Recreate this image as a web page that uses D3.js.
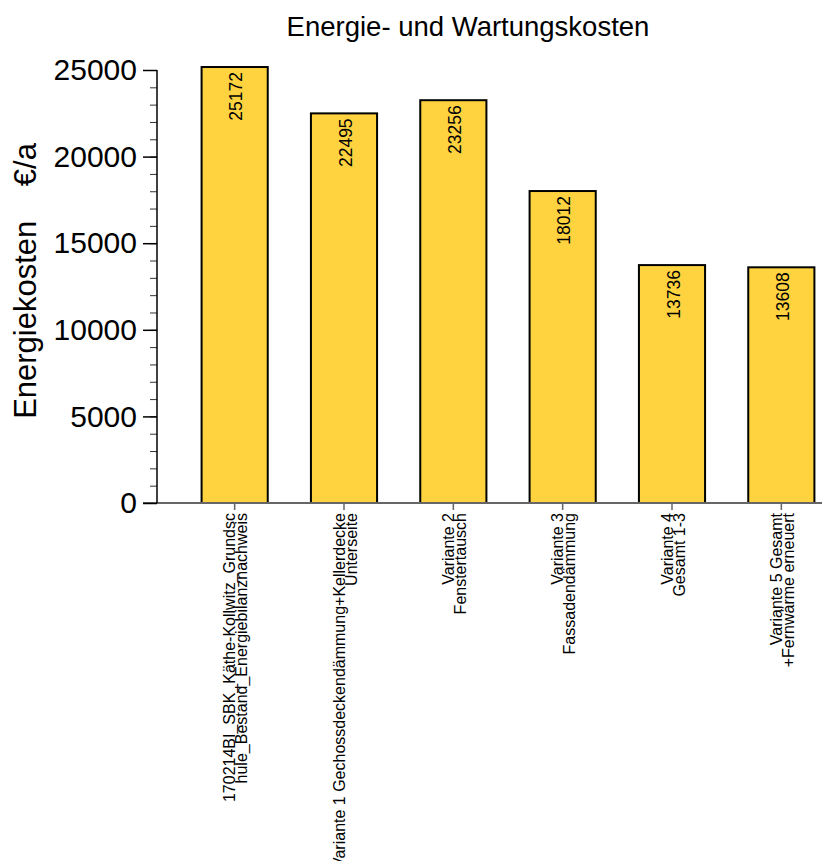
<!DOCTYPE html>
<html>
<head>
<meta charset="utf-8">
<script src="https://cdn.jsdelivr.net/npm/d3@7"></script>
<style>
  html, body { margin: 0; padding: 0; background: #fff; }
  svg { display: block; font-family: "Liberation Sans", Arial, sans-serif; }
</style>
</head>
<body>
<svg id="chart" width="822" height="861"></svg>
<script>
// Variants (each label split into two lines) and yearly energy + maintenance costs
const labelLine1 = [
  "170214BI_SBK_Käthe-Kollwitz_Grundsc",
  "Variante 1 Gechossdeckendämmung+Kellerdecke",
  "Variante 2",
  "Variante 3",
  "Variante 4",
  "Variante 5 Gesamt"
];
const labelLine2 = [
  "hule_Bestand_Energiebilanznachweis",
  "Unterseite",
  "Fenstertausch",
  "Fassadendämmung",
  "Gesamt 1-3",
  "+Fernwärme erneuert"
];
const costs = [25172, 22495, 23256, 18012, 13736, 13608];
const yTicks = [0, 5000, 10000, 15000, 20000, 25000];
const yMinorTicks = d3.range(0, 25001, 1000);

const title = "Energie- und Wartungskosten";
const yLabel = "Energiekosten    €/a";

const svg = d3.select("#chart");

const x = d3.scaleBand()
  .domain(d3.range(costs.length))
  .range([180, 836])
  .paddingInner(0.395)
  .paddingOuter(0.1975);

const y = d3.scaleLinear()
  .domain([0, 25000])
  .range([503, 70]);

// title
svg.append("text")
  .attr("x", 468).attr("y", 36)
  .attr("text-anchor", "middle")
  .attr("font-size", 27.5)
  .attr("fill", "#000")
  .text(title);

// y axis title
svg.append("text")
  .attr("transform", "translate(36,281) rotate(-90)")
  .attr("text-anchor", "middle")
  .attr("font-size", 31)
  .attr("fill", "#000")
  .style("white-space", "pre")
  .text(yLabel);

// bars
svg.append("g").selectAll("rect")
  .data(costs)
  .join("rect")
  .attr("x", (d, i) => x(i))
  .attr("y", d => y(d))
  .attr("width", x.bandwidth())
  .attr("height", d => y(0) - y(d))
  .attr("fill", "#FFD340")
  .attr("stroke", "#000")
  .attr("stroke-width", 2);

// value labels inside the bars, reading upward
svg.append("g").selectAll("text")
  .data(costs)
  .join("text")
  .attr("transform", (d, i) => `translate(${x(i) + x.bandwidth() / 2 + 7.5},${y(d) + 5}) rotate(-90)`)
  .attr("text-anchor", "end")
  .attr("font-size", 17.5)
  .attr("fill", "#000")
  .text(d => d);

// x axis
const xAxis = svg.append("g");
xAxis.append("line")
  .attr("x1", 143).attr("x2", 822)
  .attr("y1", y(0)).attr("y2", y(0))
  .attr("stroke", "#666").attr("stroke-width", 2);
xAxis.selectAll("line.tick")
  .data(costs)
  .join("line")
  .attr("class", "tick")
  .attr("x1", (d, i) => x(i) + x.bandwidth() / 2)
  .attr("x2", (d, i) => x(i) + x.bandwidth() / 2)
  .attr("y1", y(0)).attr("y2", y(0) + 7)
  .attr("stroke", "#666").attr("stroke-width", 1.5);

const catLabels = xAxis.selectAll("text.cat")
  .data(costs)
  .join("text")
  .attr("class", "cat")
  .attr("transform", (d, i) => `translate(${x(i) + x.bandwidth() / 2},513) rotate(-90)`)
  .attr("text-anchor", "end")
  .attr("font-size", 16)
  .attr("fill", "#000");
catLabels.append("tspan")
  .attr("x", 0).attr("dy", 0.5)
  .text((d, i) => labelLine1[i]);
catLabels.append("tspan")
  .attr("x", 0).attr("dy", 12)
  .text((d, i) => labelLine2[i]);

// y axis with minor ticks
const yAxis = svg.append("g").attr("transform", "translate(157,0)");
yAxis.append("g")
  .call(d3.axisLeft(y).tickValues(yMinorTicks).tickSize(7).tickFormat(""))
  .call(g => g.select(".domain").remove())
  .call(g => g.selectAll("line").attr("stroke", "#333").attr("stroke-width", 1));
yAxis.append("g")
  .call(d3.axisLeft(y).tickValues(yTicks).tickSize(14).tickPadding(6).tickFormat(d3.format("d")))
  .call(g => g.select(".domain").remove())
  .call(g => g.selectAll("line").attr("stroke", "#000").attr("stroke-width", 1.5))
  .call(g => g.selectAll("text")
    .attr("font-size", 30)
    .attr("font-family", "Liberation Sans, Arial, sans-serif")
    .attr("fill", "#000"));
yAxis.append("line")
  .attr("x1", 0).attr("x2", 0)
  .attr("y1", y(25000)).attr("y2", y(0))
  .attr("stroke", "#000").attr("stroke-width", 1.5);
</script>
</body>
</html>
